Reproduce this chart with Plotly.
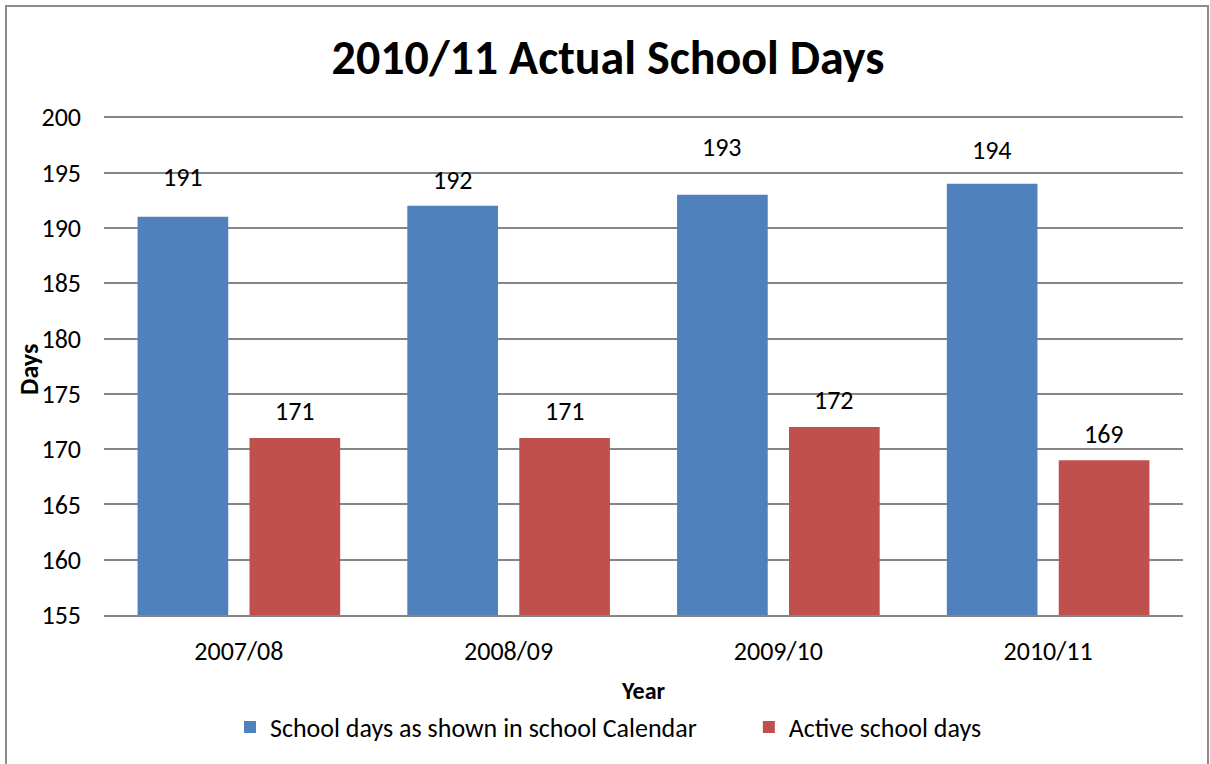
import plotly.graph_objects as go

# Data
years = ["2007/08", "2008/09", "2009/10", "2010/11"]
calendar_days = [191, 192, 193, 194]
active_days = [171, 171, 172, 169]

# label lift above each bar (px), as in the original
calendar_label_lift = [40, 26, 48, 34]
active_label_lift = [27, 27, 27, 26]

BLUE = "#4F81BD"
RED = "#C0504D"
FONT = "Carlito, Calibri, Lato, sans-serif"

W, H = 1210, 764
L, R, T, B = 104, 27, 116, 149
pw, ph = W - L - R, H - T - B

fig = go.Figure()
# trailing non-breaking spaces widen the gap between the two legend entries
fig.add_trace(go.Bar(x=years, y=calendar_days,
                     name="School days as shown in school Calendar" + "\u00a0" * 8,
                     marker_color=BLUE, marker_line_width=0))
fig.add_trace(go.Bar(x=years, y=active_days, name="Active school days",
                     marker_color=RED, marker_line_width=0))

# value labels above bars
for vals, lifts, shift in [(calendar_days, calendar_label_lift, -56),
                           (active_days, active_label_lift, 56)]:
    for yr, v, lift in zip(years, vals, lifts):
        fig.add_annotation(x=yr, y=v, text=str(v), showarrow=False, xshift=shift,
                           yshift=lift, yanchor="middle",
                           font=dict(size=26, color="black", family=FONT))

# axis titles (placed like the original, "Days" sits over the tick labels)
fig.add_annotation(xref="paper", yref="paper", x=(29 - L) / pw, y=(H - B - 370) / ph,
                   text="<b>Days</b>", textangle=-90, showarrow=False,
                   xanchor="center", yanchor="middle", font=dict(size=26))
fig.add_annotation(xref="paper", yref="paper", x=(643 - L) / pw, y=-(690 - (H - B)) / ph,
                   text="<b>Year</b>", showarrow=False,
                   xanchor="center", yanchor="middle", font=dict(size=24))

# outer chart border
fig.add_shape(type="rect", xref="paper", yref="paper",
              x0=(6 - L) / pw, x1=(1208 - L) / pw,
              y0=-(H + 10 - T - ph) / ph, y1=1 + (T - 6) / ph,
              line=dict(color="#8c8c8c", width=2), layer="below")

fig.update_layout(
    width=W, height=H,
    margin=dict(l=L, r=R, t=T, b=B, autoexpand=False),
    paper_bgcolor="white", plot_bgcolor="white",
    font=dict(family=FONT, size=26, color="black"),
    title=dict(text="<b>2010/11 Actual School Days</b>", x=(608 - L) / pw, xref="paper",
               xanchor="center", y=1 - 57 / H, yanchor="middle",
               font=dict(size=48, family=FONT)),
    barmode="group", bargap=0.17, bargroupgap=0.19,
    legend=dict(orientation="h", x=(230 - L) / pw, xanchor="left",
                y=-(727 - (H - B)) / ph, yanchor="middle",
                font=dict(size=26), traceorder="normal", itemwidth=30),
    showlegend=True,
)
fig.update_yaxes(range=[155, 200.12], tick0=155, dtick=5, showgrid=True,
                 gridcolor="#868686", gridwidth=2,
                 zeroline=False, ticks="", ticklabelstandoff=22)
fig.update_xaxes(showline=True, linecolor="#868686", linewidth=2, ticks="",
                 ticklabelstandoff=12)

fig.write_html("out.html", config={"displayModeBar": False},
               post_script="document.body.style.margin='0px';")
